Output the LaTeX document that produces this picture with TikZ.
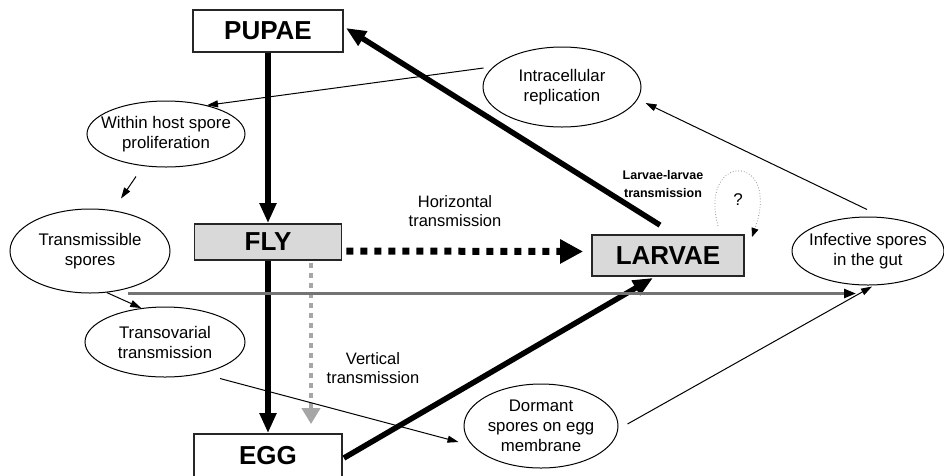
\documentclass[tikz,border=0pt]{standalone}
\usepackage{fontspec}
\setmainfont{Liberation Sans}
\usetikzlibrary{shapes.geometric,arrows.meta}
\begin{document}
\begin{tikzpicture}[x=1pt,y=-1pt,
  box/.style={draw=black!85,line width=1.8pt,inner sep=0pt,font=\fontsize{26}{30}\selectfont\bfseries},
  greybox/.style={box,fill=black!15},
  oval/.style={ellipse,draw,line width=1pt,inner sep=0pt},
  ovaltext/.style={font=\fontsize{16.8}{20}\selectfont,align=center,inner sep=0pt},
  lbl/.style={font=\fontsize{16.5}{19}\selectfont,align=center,inner sep=0pt},
  thinarrow/.style={line width=1pt,-{Triangle[length=11pt,width=7pt]}},
  thickarrow/.style={line width=5.5pt,-{Triangle[length=20pt,width=16pt]}},
]
\useasboundingbox (0,0) rectangle (944,475);

% stage boxes
\node[box, minimum width=150pt, minimum height=42pt] (pupae) at (268,31) {PUPAE};
\node[greybox, minimum width=147pt, minimum height=36pt] (fly) at (268,242) {FLY};
\node[greybox, minimum width=152pt, minimum height=41pt] (larvae) at (668,255.5) {LARVAE};
\node[box, minimum width=148pt, minimum height=44pt] (egg) at (268,456) {EGG};

% ellipses
\node[oval, minimum width=158pt, minimum height=80pt] (intra) at (562,87) {};
\node[ovaltext] (intraT) at (intra.center) {Intracellular\\replication};
\node[oval, minimum width=158pt, minimum height=66pt] (within) at (166,134) {};
\node[ovaltext] (withinT) at (within.center) {Within host spore\\proliferation};
\node[oval, minimum width=160pt, minimum height=84pt] (trans) at (90,251) {};
\node[ovaltext] (transT) at (trans.center) {Transmissible\\spores};
\node[oval, minimum width=160pt, minimum height=70pt] (transov) at (165,342) {};
\node[ovaltext] (transovT) at (transov.center) {Transovarial\\transmission};
\node[oval, minimum width=154pt, minimum height=84pt] (dormant) at (541,426) {};
\node[ovaltext] (dormantT) at (dormant.center) {Dormant\\spores on egg\\membrane};
\node[oval, minimum width=152pt, minimum height=68pt] (infect) at (868,251) {};
\node[ovaltext] (infectT) at (infect.center) {Infective spores\\in the gut};

% labels
\node[lbl] (horiz) at (455,211) {Horizontal\\transmission};
\node[lbl] (vert) at (373,368) {Vertical\\transmission};
\node[font=\fontsize{12.5}{18}\selectfont\bfseries,align=center,inner sep=0pt] (ll) at (663,184) {Larvae-larvae\\transmission};
\node[font=\fontsize{17}{19}\selectfont,inner sep=0pt] (q) at (738,200) {?};

% thick life-cycle arrows
\draw[thickarrow] (pupae.south) -- (fly.north);
\draw[thickarrow] (fly.south) -- (egg.north);
\draw[thickarrow] ([shift={(1,2)}]egg.east) -- ([shift={(-15,1)}]larvae.south);
\draw[thickarrow] ([shift={(-8,-9)}]larvae.north) -- ([shift={(2,-3)}]pupae.east);
\draw[line width=7pt, dash pattern=on 7pt off 7pt, -{Triangle[length=23pt,width=23pt]}]
  ([shift={(4,9)}]fly.east) -- ([shift={(-8,-4)}]larvae.west);
\draw[line width=4.5pt, black!35, dash pattern=on 5pt off 5pt, -{Triangle[length=16pt,width=18pt]}]
  ([shift={(43,2)}]fly.south) -- ([shift={(43,-9)}]egg.north);

% thin arrows
\draw[thinarrow] ([shift={(1,-19)}]intra.west) -- (within.35);
\draw[thinarrow] ([shift={(-30,9)}]within.south) -- ([shift={(31,-10)}]trans.north);
\draw[thinarrow] (trans.-68) -- (transov.125);
\draw[thinarrow] ([shift={(55,1)}]transov.south) -- ([shift={(-5,16)}]dormant.west);
\draw[thinarrow] ([shift={(9,-2)}]dormant.east) -- ([shift={(4,1)}]infect.south);
\draw[thinarrow] ([shift={(-1,-7)}]infect.north) -- ([shift={(4,16)}]intra.east);
\draw[line width=2.5pt, black!55, -{Triangle[length=12pt,width=9pt,fill=black,color=black]}]
  ([shift={(38,0)}]trans.south) -- ([shift={(-12,8)}]infect.south);

% question loop
\draw[black!45, line width=0.8pt, dotted, -{Triangle[length=9pt,width=7pt,color=black]}]
  ([shift={(-20,26)}]q.center) .. controls ([shift={(-40,-48)}]q.center) and ([shift={(44,-48)}]q.center) .. ([shift={(14,37)}]q.center);
\end{tikzpicture}
\end{document}
